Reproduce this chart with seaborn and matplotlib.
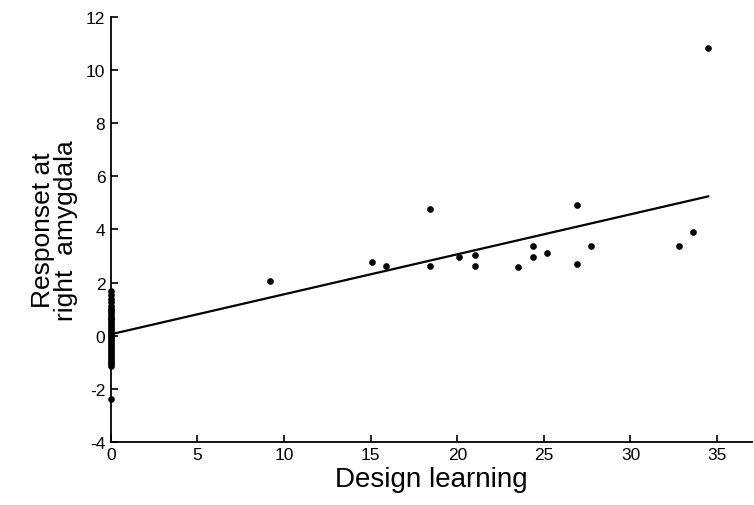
import matplotlib
matplotlib.use("Agg")
import matplotlib.pyplot as plt
import seaborn as sns
import pandas as pd

# subjects with nonzero design learning
learn_x = [9.2, 15.1, 15.9, 18.4, 18.4, 20.1, 21.0, 21.0, 23.5, 24.4, 24.4,
           25.2, 26.9, 26.9, 27.7, 32.8, 33.6, 34.5]
resp_y = [2.05, 2.76, 2.62, 4.78, 2.62, 2.98, 3.02, 2.62, 2.58, 3.36, 2.95,
          3.12, 4.92, 2.70, 3.36, 3.38, 3.90, 10.85]

# subjects at zero design learning (dense column on the axis)
zero_y = [1.70, 1.52, 1.38, 1.25, 1.12, 1.02, 0.95, 0.88, 0.80, 0.72, 0.65,
          0.58, 0.50, 0.42, 0.35, 0.28, 0.20, 0.12, 0.05, -0.02, -0.10,
          -0.18, -0.25, -0.32, -0.40, -0.48, -0.55, -0.62, -0.70, -0.78,
          -0.85, -0.92, -1.00, -1.08, -1.15, -2.38]

# fitted line
fit_x = [0.0, 34.5]
fit_y = [0.05, 5.25]

xticks = [0, 5, 10, 15, 20, 25, 30, 35]
yticks = [-4, -2, 0, 2, 4, 6, 8, 10, 12]

df = pd.DataFrame({
    "x": learn_x + [0.0] * len(zero_y),
    "y": resp_y + zero_y,
})
fit = pd.DataFrame({"x": fit_x, "y": fit_y})

sns.set_style("white")
plt.rcParams["font.family"] = ["Liberation Sans", "DejaVu Sans"]
plt.rcParams["axes.unicode_minus"] = False
plt.rcParams["text.color"] = "black"
plt.rcParams["axes.labelcolor"] = "black"

fig = plt.figure(figsize=(7.54, 5.06), dpi=100)
ax = fig.add_axes([0.147, 0.125, 0.85, 0.839])

sns.lineplot(data=fit, x="x", y="y", color="black", linewidth=1.6, ax=ax)
sns.scatterplot(data=df, x="x", y="y", color="black", s=20, edgecolor="black",
                linewidth=0.3, ax=ax, clip_on=False, zorder=3)

ax.set_xlim(0, 37)
ax.set_ylim(-4, 12)
ax.set_xticks(xticks)
ax.set_yticks(yticks)
ax.tick_params(bottom=True, left=True, direction="in", length=5, width=1.2,
               labelsize=12.5, colors="black", pad=4)
ax.set_xlabel("Design learning", fontsize=20, labelpad=3)
ax.set_ylabel("Responset at\nright  amygdala", fontsize=19, labelpad=6,
              linespacing=0.95)

for s in ["top", "right"]:
    ax.spines[s].set_visible(False)
for s in ["left", "bottom"]:
    ax.spines[s].set_color("black")
    ax.spines[s].set_linewidth(1.3)

fig.savefig("out.png", dpi=100)
